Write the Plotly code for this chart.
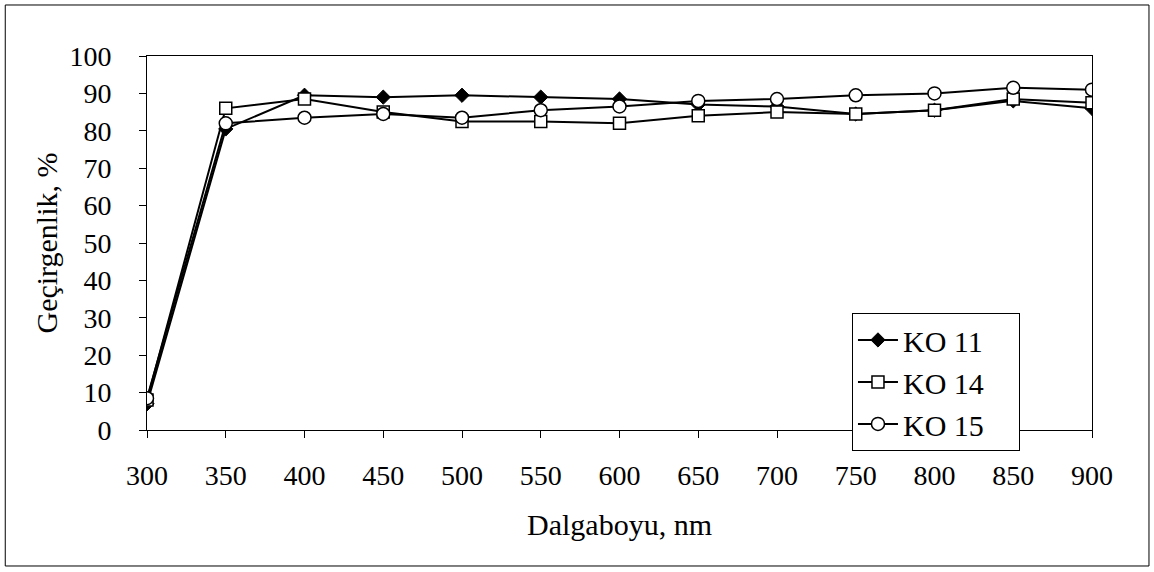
import plotly.graph_objects as go

# Wavelength (nm) and transmittance (%) of the three samples
wavelength = [300, 350, 400, 450, 500, 550, 600, 650, 700, 750, 800, 850, 900]
ko11 = [7.0, 80.5, 89.5, 89.0, 89.5, 89.0, 88.5, 87.0, 86.5, 84.5, 85.5, 88.0, 86.0]
ko14 = [8.0, 86.0, 88.5, 85.0, 82.5, 82.5, 82.0, 84.0, 85.0, 84.5, 85.5, 88.5, 87.5]
ko15 = [8.5, 82.0, 83.5, 84.5, 83.5, 85.5, 86.5, 88.0, 88.5, 89.5, 90.0, 91.5, 91.0]

FONT = "Times New Roman, Liberation Serif, serif"
PAD = "\u00a0" * 4  # extra room on the right of the legend entries

fig = go.Figure()
fig.add_trace(go.Scatter(
    x=wavelength, y=ko11, name="KO 11" + PAD, mode="lines+markers",
    line=dict(color="black", width=2),
    marker=dict(symbol="diamond", size=11, color="black",
                line=dict(color="black", width=1)),
))
fig.add_trace(go.Scatter(
    x=wavelength, y=ko14, name="KO 14" + PAD, mode="lines+markers",
    line=dict(color="black", width=2),
    marker=dict(symbol="square", size=12, color="white",
                line=dict(color="black", width=1.5)),
))
fig.add_trace(go.Scatter(
    x=wavelength, y=ko15, name="KO 15" + PAD, mode="lines+markers",
    line=dict(color="black", width=2),
    marker=dict(symbol="circle", size=13, color="white",
                line=dict(color="black", width=1.5)),
))

fig.update_layout(
    width=1154, height=572,
    margin=dict(l=147, r=62, t=56, b=142),
    paper_bgcolor="white", plot_bgcolor="white",
    font=dict(family=FONT, size=28, color="black"),
    showlegend=True,
    legend=dict(
        x=0.746, y=0.313, xanchor="left", yanchor="top",
        bgcolor="white", bordercolor="black", borderwidth=1,
        font=dict(family=FONT, size=30, color="black"),
        itemwidth=40, tracegroupgap=0,
    ),
    xaxis=dict(
        range=[300, 900], dtick=50, tick0=300,
        showgrid=False, zeroline=False,
        showline=True, linecolor="black", linewidth=1, mirror=True,
        ticks="outside", ticklen=7, tickcolor="black",
        ticklabelstandoff=13,
        tickfont=dict(family=FONT, size=28),
        title=dict(text="Dalgaboyu, nm", font=dict(family=FONT, size=30), standoff=24),
    ),
    yaxis=dict(
        range=[0, 100], dtick=10,
        showgrid=False, zeroline=False,
        showline=True, linecolor="black", linewidth=1, mirror=True,
        ticks="outside", ticklen=7, tickcolor="black",
        ticklabelstandoff=22,
        tickfont=dict(family=FONT, size=28),
        title=dict(text="Geçirgenlik, %", font=dict(family=FONT, size=30), standoff=2),
    ),
    shapes=[dict(
        type="rect", xref="paper", yref="paper",
        x0=-0.150, x1=1.0603, y0=-0.3636, y1=1.1364,
        line=dict(color="black", width=1), fillcolor="rgba(0,0,0,0)",
        layer="below",
    )],
)

fig.write_html("out.html")
